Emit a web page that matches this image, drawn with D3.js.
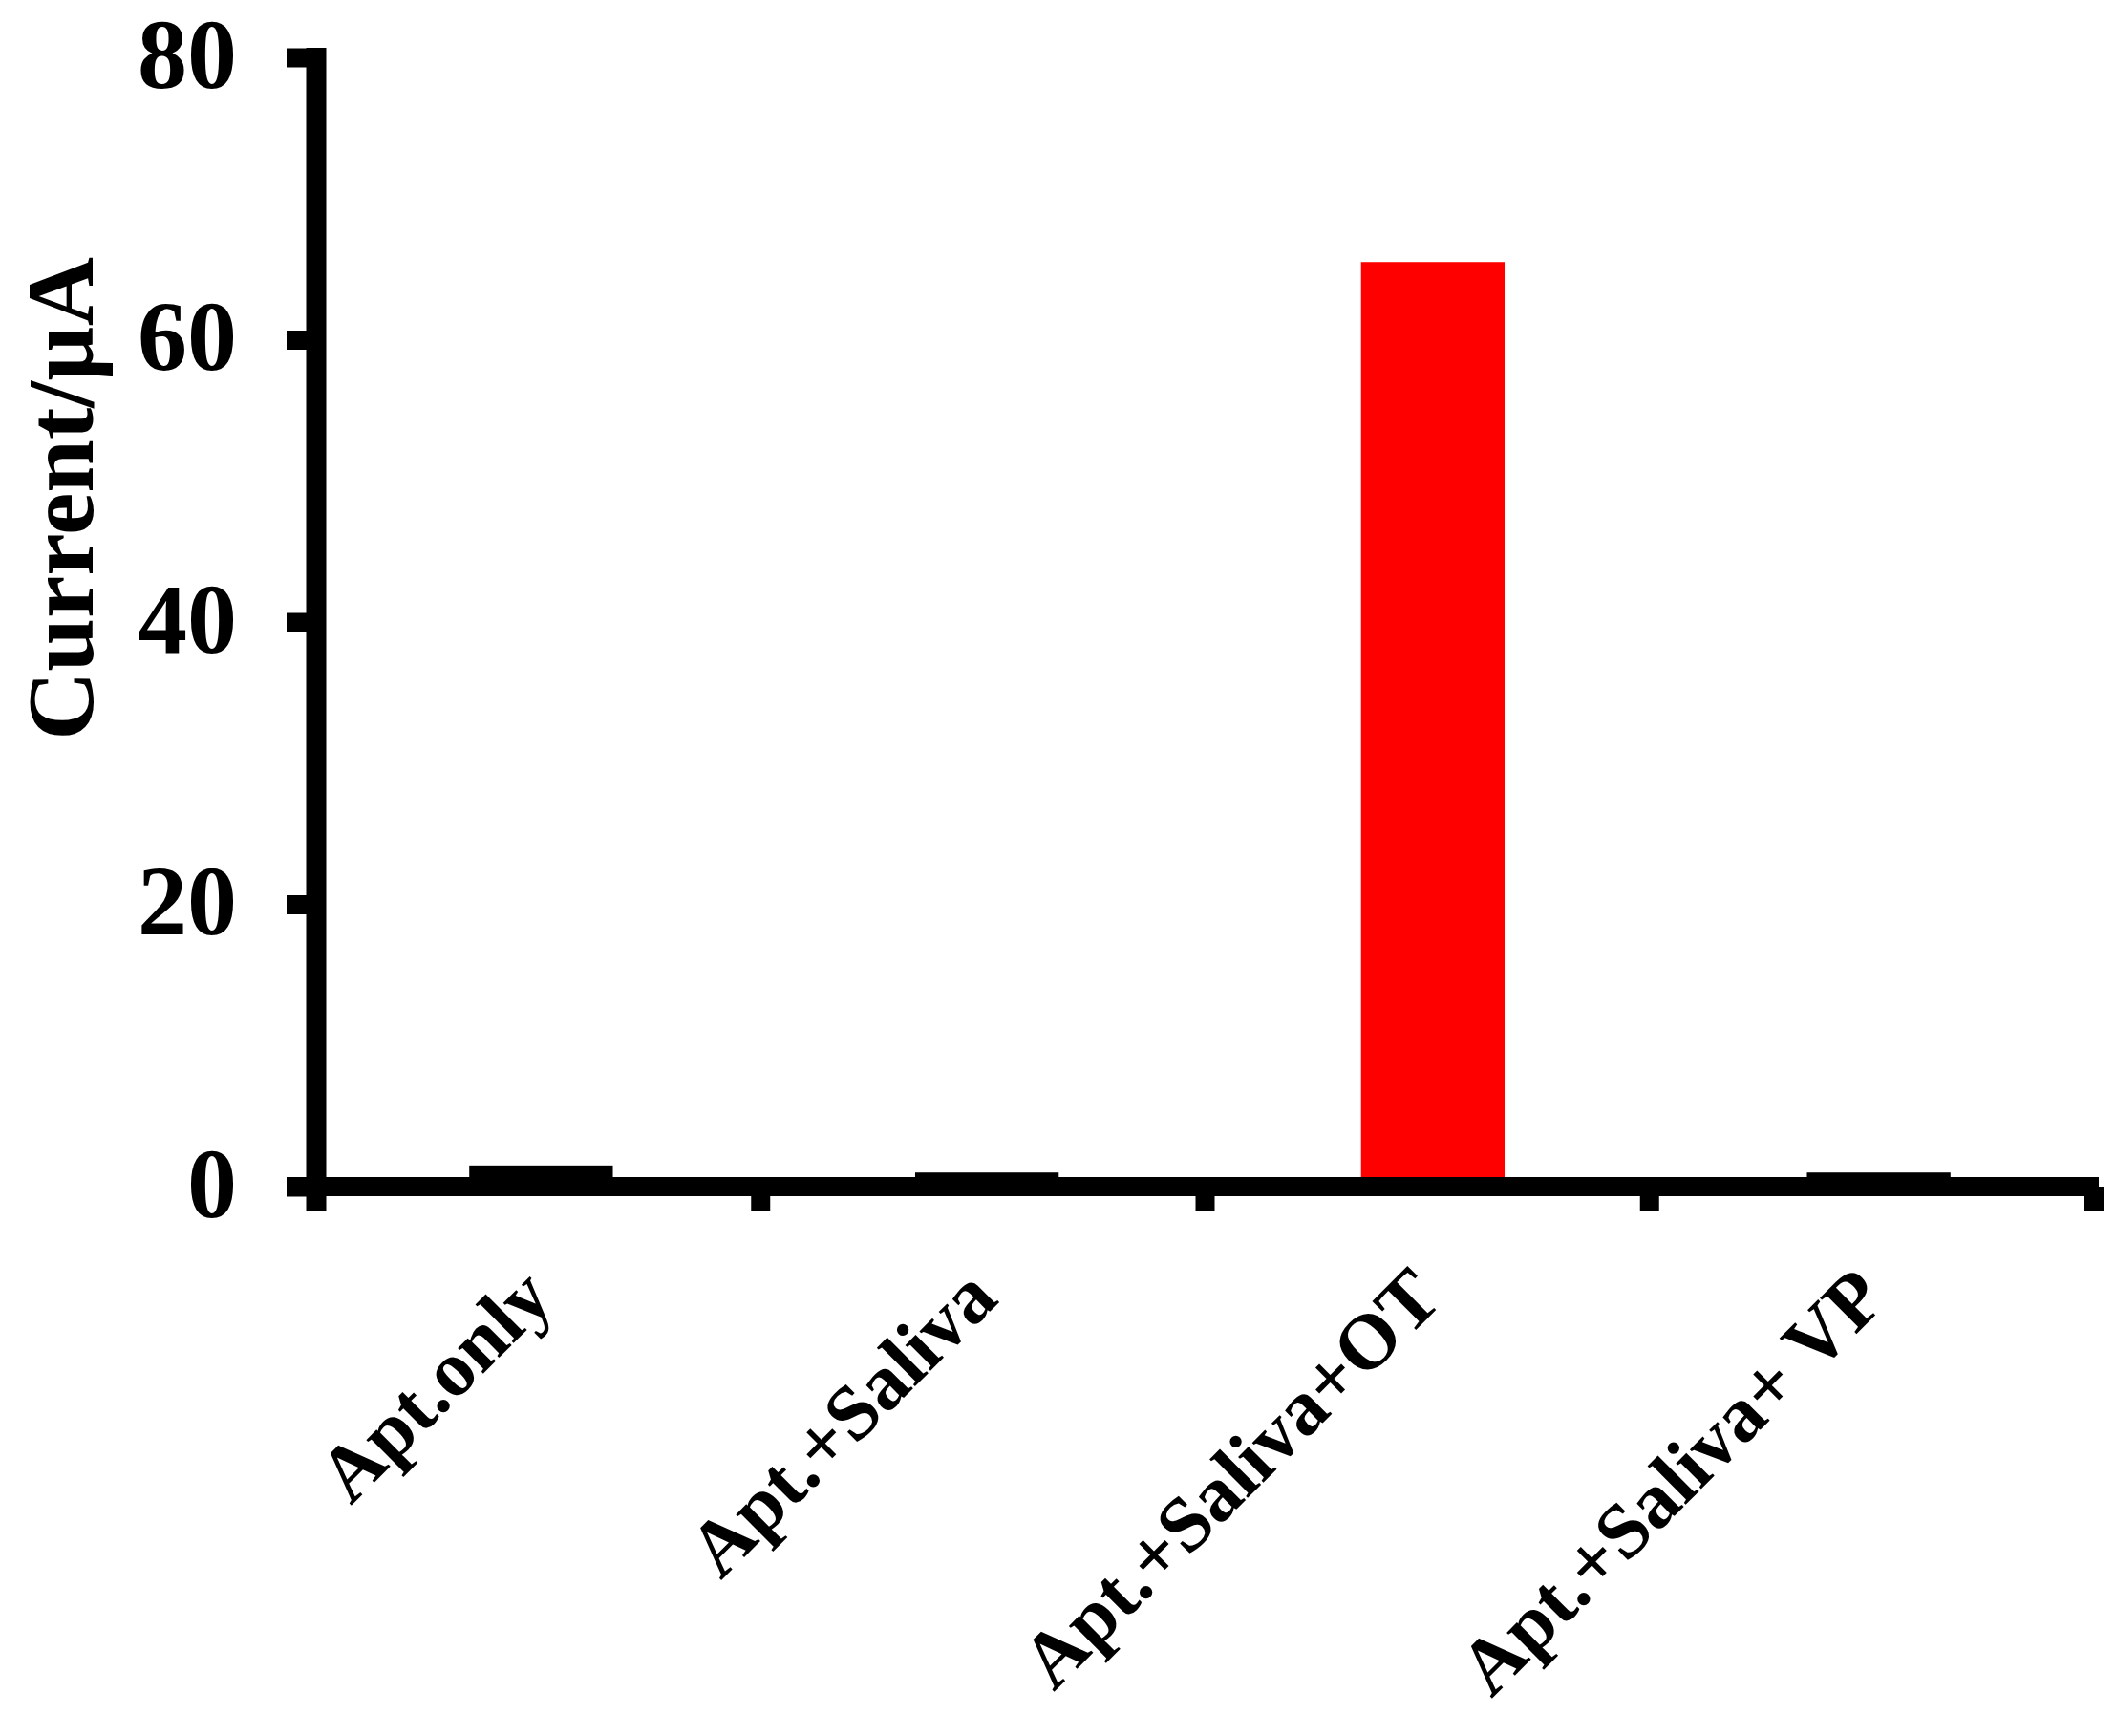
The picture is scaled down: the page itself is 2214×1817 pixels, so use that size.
<!DOCTYPE html>
<html>
<head>
<meta charset="utf-8">
<script src="https://cdn.jsdelivr.net/npm/d3@7"></script>
<style>
  html, body { margin: 0; padding: 0; background: #fff; }
  svg { display: block; }
</style>
</head>
<body>
<script>
// ---- data ----
const categories = ["Apt.only", "Apt.+Saliva", "Apt.+Saliva+OT", "Apt.+Saliva+ VP"];
const values = [1.5, 1.0, 65.5, 1.0];
const barColors = ["#000000", "#000000", "#FF0000", "#000000"];
const yTicks = [0, 20, 40, 60, 80];
const yLabel = "Current/\u00B5A";

// ---- layout ----
const W = 2214, H = 1817;
const x0 = 331, x1 = 2192;   // axis extent
const yBottom = 1242, yTop = 60;
const axisW = 21;
const font = "'Liberation Serif', 'Times New Roman', serif";

const svg = d3.select("body").append("svg")
  .attr("width", W).attr("height", H);

const x = d3.scaleBand().domain(categories).range([x0 + 2, x1 + 8])
  .paddingInner(0.678).paddingOuter(0.339);
const xTicks = d3.scaleBand().domain(categories).range([x0, x1]).padding(0);
const y = d3.scaleLinear().domain([0, 80]).range([yBottom, yTop]);

// bars
svg.append("g").selectAll("rect").data(categories).join("rect")
  .attr("x", d => x(d))
  .attr("width", x.bandwidth())
  .attr("y", (d, i) => y(values[i]))
  .attr("height", (d, i) => y(0) - y(values[i]))
  .attr("fill", (d, i) => barColors[i]);

// y axis (ticks + labels via d3)
const yAxis = svg.append("g")
  .attr("transform", `translate(${x0},0)`)
  .call(d3.axisLeft(y).tickValues(yTicks).tickSize(31).tickPadding(52).tickSizeOuter(0));
yAxis.select(".domain").remove();
yAxis.selectAll(".tick line").attr("stroke", "#000").attr("stroke-width", 20);
yAxis.selectAll(".tick text")
  .attr("font-family", font).attr("font-weight", "bold")
  .attr("font-size", 104).attr("fill", "#000").attr("dy", "0.30em");

// x axis ticks at band boundaries
const xTickPos = categories.map(d => xTicks(d)).concat([x1]);
svg.append("g").selectAll("line").data(xTickPos).join("line")
  .attr("x1", d => d).attr("x2", d => d)
  .attr("y1", yBottom).attr("y2", yBottom + 26)
  .attr("stroke", "#000").attr("stroke-width", 20);

// axis lines
svg.append("line")
  .attr("x1", x0).attr("x2", x0)
  .attr("y1", yTop - 10).attr("y2", yBottom + 26)
  .attr("stroke", "#000").attr("stroke-width", axisW);
svg.append("line")
  .attr("x1", x0 - 31).attr("x2", x1 + 5)
  .attr("y1", yBottom).attr("y2", yBottom)
  .attr("stroke", "#000").attr("stroke-width", 20);

// x labels rotated
svg.append("g").selectAll("text").data(categories).join("text")
  .attr("transform", d => `translate(${xTicks(d) + xTicks.bandwidth() / 2 + 18},${yBottom + 120}) rotate(-45)`)
  .attr("text-anchor", "end")
  .attr("font-family", font).attr("font-weight", "bold")
  .attr("font-size", 82).attr("fill", "#000")
  .text(d => d);

// y label
svg.append("text")
  .attr("transform", `translate(97,522) rotate(-90)`)
  .attr("text-anchor", "middle")
  .attr("font-family", font).attr("font-weight", "bold")
  .attr("font-size", 100).attr("fill", "#000")
  .text(yLabel);
</script>
</body>
</html>
